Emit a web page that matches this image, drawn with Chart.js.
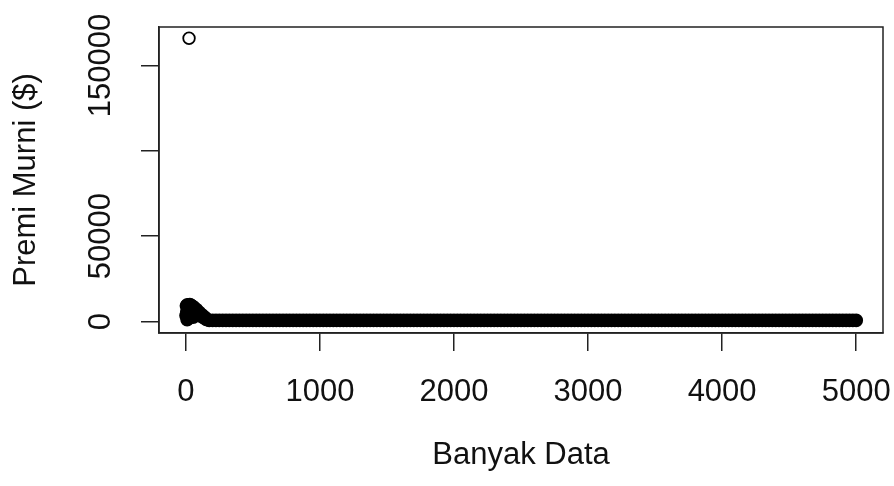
<!DOCTYPE html>
<html>
<head>
<meta charset="utf-8">
<script src="https://cdn.jsdelivr.net/npm/chart.js@4/dist/chart.umd.min.js"></script>
<style>
  html,body{margin:0;background:#fff}
  canvas{display:block}
</style>
</head>
<body>
<canvas id="chart" width="894" height="486"></canvas>
<script>
// axis ticks
const xTicks=[0,1000,2000,3000,4000,5000];
const yTicks=[0,50000,100000,150000];
const yTickLabels=['0','50000','','150000'];

// the first rows (large premiums, dense blob near the start)
const earlyIndex=[2,5,8,10,12,15,18,20,22,25,28,30,33,36,40,45,50,55,60,70,80,90,100,110,120,130,140,150,160];
const earlyPremi=[3500,9200,6100,1200,9800,7400,4300,9600,2100,8700,5600,9900,3100,7800,9400,5200,8900,2600,8300,6800,7000,4100,5400,3300,3900,2400,2600,1500,1100];

// the single outlier
const outlierIndex=[24];
const outlierPremi=[165900];

// the rest: small premiums, every 25th row
const bandIndex=[175,200,225,250,275,300,325,350,375,400,
  425,450,475,500,525,550,575,600,625,650,
  675,700,725,750,775,800,825,850,875,900,
  925,950,975,1000,1025,1050,1075,1100,1125,1150,
  1175,1200,1225,1250,1275,1300,1325,1350,1375,1400,
  1425,1450,1475,1500,1525,1550,1575,1600,1625,1650,
  1675,1700,1725,1750,1775,1800,1825,1850,1875,1900,
  1925,1950,1975,2000,2025,2050,2075,2100,2125,2150,
  2175,2200,2225,2250,2275,2300,2325,2350,2375,2400,
  2425,2450,2475,2500,2525,2550,2575,2600,2625,2650,
  2675,2700,2725,2750,2775,2800,2825,2850,2875,2900,
  2925,2950,2975,3000,3025,3050,3075,3100,3125,3150,
  3175,3200,3225,3250,3275,3300,3325,3350,3375,3400,
  3425,3450,3475,3500,3525,3550,3575,3600,3625,3650,
  3675,3700,3725,3750,3775,3800,3825,3850,3875,3900,
  3925,3950,3975,4000,4025,4050,4075,4100,4125,4150,
  4175,4200,4225,4250,4275,4300,4325,4350,4375,4400,
  4425,4450,4475,4500,4525,4550,4575,4600,4625,4650,
  4675,4700,4725,4750,4775,4800,4825,4850,4875,4900,
  4925,4950,4975,5000];
const bandPremi=[680,700,660,690,710,670,700,650,690,680,
  710,660,690,700,650,710,680,700,670,710,
  670,690,650,700,680,670,710,690,660,700,
  680,650,700,670,710,660,690,670,700,650,
  690,680,710,650,690,670,710,660,690,680,
  650,700,670,690,660,710,670,690,680,650,
  700,670,690,710,660,690,670,700,680,660,
  710,680,650,700,690,670,710,670,690,660,
  680,700,660,690,710,670,650,700,680,690,
  670,710,680,650,700,680,700,660,690,710,
  650,690,680,700,670,710,660,690,680,670,
  700,660,690,680,710,690,650,700,670,700,
  680,690,660,700,670,690,710,660,680,650,
  700,680,710,660,690,670,700,650,710,680,
  660,690,700,680,650,700,670,710,690,660,
  690,670,680,710,660,690,650,700,680,690,
  710,660,700,670,690,710,660,680,700,650,
  680,700,670,690,650,710,680,690,660,710,
  690,650,710,680,700,670,690,660,700,680,
  670,700,650,690];

const FONT='"Liberation Sans", Arial, sans-serif';
const INK='#111';
const LINE='#222';

function pts(xs,ys){ return xs.map((x,i)=>({x:x,y:ys[i]})); }

const densePoints=pts(earlyIndex,earlyPremi).concat(pts(bandIndex,bandPremi));
const loosePoints=pts(outlierIndex,outlierPremi);

// frame around the plot region
const boxPlugin={
  id:'box',
  afterDraw(chart){
    const {ctx,chartArea:a}=chart;
    ctx.save();
    ctx.strokeStyle=LINE; ctx.lineWidth=1.5;
    ctx.strokeRect(a.left,a.top,a.right-a.left,a.bottom-a.top);
    ctx.restore();
  }
};

new Chart(document.getElementById('chart').getContext('2d'),{
  type:'scatter',
  data:{datasets:[
    {label:'Premi Murni',data:densePoints,pointRadius:6,pointBorderWidth:1.8,
     pointBorderColor:'#000',pointBackgroundColor:'#000'},
    {label:'Premi Murni',data:loosePoints,pointRadius:5.8,pointBorderWidth:1.8,
     pointBorderColor:'#000',pointBackgroundColor:'rgba(0,0,0,0)'}
  ]},
  options:{
    responsive:false,
    animation:false,
    events:[],
    layout:{padding:{left:0,top:27,right:11,bottom:0}},
    plugins:{legend:{display:false},tooltip:{enabled:false}},
    scales:{
      x:{
        type:'linear',min:-200,max:5200,
        afterBuildTicks:s=>{ s.ticks=xTicks.map(v=>({value:v})); },
        afterFit:s=>{ s.height=153; s.paddingLeft=0; s.paddingRight=0; },
        grid:{drawOnChartArea:false,drawTicks:true,tickLength:18,color:LINE,lineWidth:1.5},
        border:{display:true,color:LINE,width:1.5},
        ticks:{color:INK,font:{family:FONT,size:31},padding:23,maxRotation:0,autoSkip:false,
               callback:v=>String(v)},
        title:{display:true,text:'Banyak Data',color:INK,font:{family:FONT,size:31},padding:{top:0,bottom:12}}
      },
      y:{
        type:'linear',min:-6700,max:172500,
        afterBuildTicks:s=>{ s.ticks=yTicks.map(v=>({value:v})); },
        afterFit:s=>{ s.width=159; s.paddingTop=0; s.paddingBottom=0; },
        grid:{drawOnChartArea:false,drawTicks:true,tickLength:18,color:LINE,lineWidth:1.5},
        border:{display:true,color:LINE,width:1.5},
        ticks:{color:INK,font:{family:FONT,size:31},minRotation:90,maxRotation:90,
               crossAlign:'center',padding:-12,autoSkip:false,
               callback:(v,i)=>yTickLabels[i]},
        title:{display:true,text:'Premi Murni ($)',color:INK,font:{family:FONT,size:31},padding:{top:8,bottom:0}}
      }
    }
  },
  plugins:[boxPlugin]
});
</script>
</body>
</html>
